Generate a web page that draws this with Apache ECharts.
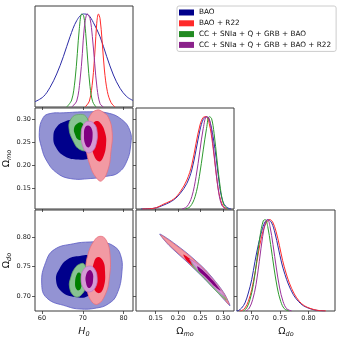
<!DOCTYPE html>
<html>
<head>
<meta charset="utf-8">
<script src="https://cdn.jsdelivr.net/npm/echarts@6/dist/echarts.min.js"></script>
<style>
  html, body { margin: 0; padding: 0; background: #fff; }
  #chart { width: 340px; height: 341px; }
</style>
</head>
<body>
<div id="chart"></div>
<script>
const labels = ['BAO', 'BAO + R22', 'CC + SNIa + Q + GRB + BAO', 'CC + SNIa + Q + GRB + BAO + R22']

// axis ticks and ranges
const h0Ticks = [60, 70, 80]
const omTicks = [0.15, 0.20, 0.25, 0.30]
const odTicks = [0.70, 0.75, 0.80]
const h0Range = [58.3, 82.3]
const omRange = [0.106, 0.325]
const odRange = [0.6744, 0.8465]

// 1D marginals: [value, relative density]
const h0Bao = [[58.3,0.057],[60.34,0.111],[61.98,0.211],[63.61,0.355],[65.24,0.541],[66.88,0.756],[68.51,0.928],[70.15,1.0],[71.37,0.989],[72.6,0.907],[74.23,0.756],[75.87,0.541],[77.5,0.344],[79.13,0.201],[80.77,0.111],[82.3,0.07]]
const h0R22 = [[70.55,0],[71.62,0.064],[72.43,0.29],[73.0,0.613],[73.42,0.9],[73.83,1.0],[74.23,0.95],[74.72,0.72],[75.3,0.398],[76.03,0.165],[76.93,0.047],[77.91,0]]
const h0Cc = [[66.05,0],[67.28,0.075],[68.1,0.29],[68.67,0.577],[69.16,0.846],[69.74,1.0],[70.23,0.978],[70.72,0.792],[71.21,0.505],[71.78,0.219],[72.43,0.057],[73.25,0]]
const h0CcR = [[67.28,0],[68.51,0.064],[69.33,0.29],[69.9,0.577],[70.39,0.86],[71.12,1.0],[71.78,0.95],[72.35,0.756],[72.92,0.47],[73.5,0.2],[74.23,0.036],[75.05,0]]

const omBao = [[0.117,0],[0.1463,0.008],[0.168,0.043],[0.19,0.098],[0.205,0.17],[0.2197,0.278],[0.2307,0.4225],[0.2402,0.64],[0.249,0.856],[0.2563,0.972],[0.2637,1.0],[0.271,0.946],[0.2783,0.783],[0.2857,0.53],[0.293,0.242],[0.3003,0.079],[0.309,0.018],[0.3187,0]]
const omR22 = [[0.12,0],[0.1463,0.008],[0.1683,0.054],[0.1903,0.108],[0.205,0.188],[0.2197,0.314],[0.2307,0.477],[0.2402,0.712],[0.249,0.91],[0.2563,0.993],[0.2622,1.0],[0.2695,0.928],[0.277,0.712],[0.2842,0.4225],[0.2915,0.17],[0.3003,0.0325],[0.309,0]]
const omCc = [[0.216,0],[0.227,0.025],[0.238,0.133],[0.2475,0.35],[0.2563,0.64],[0.2637,0.874],[0.2695,1.0],[0.2747,0.982],[0.2805,0.82],[0.2871,0.53],[0.2945,0.224],[0.3025,0.043],[0.3113,0]]
const omCcR = [[0.2087,0],[0.2197,0.025],[0.2307,0.133],[0.2402,0.35],[0.249,0.64],[0.2563,0.874],[0.2637,1.0],[0.2695,0.982],[0.2754,0.82],[0.282,0.53],[0.2893,0.224],[0.2974,0.043],[0.3062,0]]

const odBao = [[0.673,0],[0.6767,0.004],[0.6826,0.033],[0.6884,0.088],[0.6943,0.197],[0.7002,0.343],[0.706,0.544],[0.7119,0.727],[0.7177,0.873],[0.7236,0.975],[0.7294,1.0],[0.7353,0.964],[0.7411,0.854],[0.747,0.69],[0.7528,0.526],[0.7587,0.398],[0.7645,0.296],[0.7733,0.179],[0.7821,0.106],[0.7909,0.058],[0.8026,0.0255],[0.8143,0.0073],[0.829,0]]
const odR22 = [[0.679,0],[0.6826,0.004],[0.6884,0.033],[0.6943,0.106],[0.7002,0.234],[0.706,0.416],[0.7119,0.635],[0.7177,0.818],[0.7236,0.938],[0.7283,0.989],[0.7323,1.0],[0.737,0.975],[0.7429,0.873],[0.7488,0.719],[0.7546,0.551],[0.7605,0.416],[0.7663,0.307],[0.7751,0.186],[0.7839,0.106],[0.7926,0.058],[0.8043,0.0255],[0.8161,0.0073],[0.8307,0]]
const odCc = [[0.6855,0],[0.6914,0.033],[0.6972,0.124],[0.7031,0.288],[0.709,0.544],[0.7148,0.818],[0.7206,0.989],[0.7242,1.0],[0.7283,0.927],[0.7335,0.727],[0.7394,0.471],[0.7452,0.252],[0.7511,0.106],[0.7575,0.0255],[0.7663,0]]
const odCcR = [[0.6902,0],[0.6961,0.033],[0.7019,0.124],[0.7078,0.288],[0.7136,0.544],[0.7195,0.818],[0.7248,0.982],[0.7283,1.0],[0.7323,0.927],[0.7376,0.727],[0.7435,0.471],[0.7493,0.252],[0.7552,0.106],[0.7616,0.0255],[0.7704,0]]

// 2D contours (68% / 95%), outlines: H0 vs Omega_mo
const hmBao95 = [[59.35,0.272],[60.3,0.304],[62.0,0.313],[65.2,0.3145],[71.0,0.3167],[75.9,0.3145],[79.55,0.30],[81.6,0.2747],[81.75,0.246],[80.8,0.21],[78.7,0.1846],[75.9,0.177],[71.8,0.172],[66.9,0.172],[63.6,0.1846],[61.2,0.21],[59.9,0.2394]]
const hmBao68 = [[62.8,0.264],[63.7,0.285],[65.65,0.2957],[68.5,0.301],[71.4,0.301],[73.0,0.2935],[73.7,0.2675],[73.25,0.235],[71.8,0.217],[68.85,0.2134],[65.65,0.22],[63.45,0.2394]]
const hmR2295 = [[73.5,0.3206],[74.97,0.316],[76.3,0.3043],[77.2,0.272],[76.9,0.231],[76.2,0.192],[74.6,0.167],[73.25,0.1745],[71.8,0.2],[70.8,0.2394],[70.8,0.2784],[71.8,0.3087]]
const hmR2268 = [[73.0,0.2957],[74.2,0.2935],[75.45,0.272],[75.7,0.246],[74.97,0.2177],[74.0,0.209],[72.75,0.222],[72.0,0.2567],[72.3,0.285]]
const hmCc95 = [[68.9,0.3108],[70.8,0.3065],[71.55,0.278],[71.05,0.235],[69.3,0.235],[67.85,0.25],[66.6,0.283],[67.35,0.304]]
const hmCc68 = [[67.85,0.2805],[68.6,0.291],[69.6,0.2935],[70.3,0.285],[70.55,0.2675],[69.8,0.2567],[68.85,0.2567],[68.1,0.2675]]
const hmCcR95 = [[71.35,0.2963],[72.75,0.291],[73.5,0.274],[73.25,0.246],[72.27,0.2307],[71.05,0.2286],[69.95,0.2437],[69.6,0.2697],[70.2,0.2892]]
const hmCcR68 = [[71.3,0.287],[72.15,0.2805],[72.4,0.263],[72.0,0.246],[71.3,0.2394],[70.55,0.248],[70.3,0.2675],[70.55,0.2827]]

// H0 vs Omega_do
const hdBao95 = [[59.94,0.722],[60.9,0.757],[63.0,0.779],[67.7,0.789],[71.8,0.792],[75.05,0.791],[77.6,0.785],[79.2,0.771],[79.6,0.742],[78.3,0.7022],[76.2,0.6863],[73.4,0.6795],[69.3,0.6778],[66.07,0.6824],[61.2,0.6965]]
const hdBao68 = [[63.45,0.7272],[64.4,0.7477],[66.4,0.763],[69.3,0.7681],[72.27,0.7681],[73.5,0.7579],[73.5,0.7187],[71.3,0.70],[68.1,0.6983],[64.9,0.7068]]
const hdR2295 = [[74.23,0.8017],[75.7,0.7954],[76.68,0.7698],[76.44,0.7272],[75.46,0.7017],[73.74,0.6863],[72.27,0.6897],[71.05,0.7102],[70.68,0.7408],[71.3,0.7715],[72.76,0.7937]]
const hdR2268 = [[73.74,0.7664],[74.97,0.7596],[75.46,0.7408],[75.2,0.717],[74.1,0.705],[72.76,0.7119],[72.27,0.734],[72.76,0.7579]]
const hdCc95 = [[69.33,0.7545],[70.3,0.7545],[70.92,0.741],[70.8,0.717],[69.33,0.70],[67.86,0.70],[66.75,0.7153],[67.1,0.7323],[68.1,0.7477]]
const hdCc68 = [[68.72,0.739],[69.45,0.7383],[69.7,0.7255],[69.45,0.712],[68.6,0.7102],[68.1,0.7221]]
const hdCcR95 = [[71.78,0.7511],[72.88,0.746],[73.5,0.7323],[73.13,0.7153],[71.66,0.7068],[70.3,0.7119],[69.57,0.7289],[70.3,0.746]]
const hdCcR68 = [[71.66,0.7443],[72.4,0.7391],[72.52,0.7272],[72.15,0.717],[71.42,0.7136],[70.8,0.7221],[70.8,0.7357]]

// Omega_mo vs Omega_do
const mdBao95 = [[0.159,0.8055],[0.18,0.796],[0.22,0.773],[0.26,0.7455],[0.29,0.7185],[0.305,0.702],[0.316,0.6835],[0.305,0.692],[0.29,0.7045],[0.26,0.7285],[0.22,0.758],[0.18,0.786]]
const mdBao68 = [[0.22,0.769],[0.26,0.7415],[0.29,0.714],[0.29,0.709],[0.26,0.733],[0.22,0.762]]
const mdR2295 = [[0.161,0.804],[0.18,0.7948],[0.22,0.7718],[0.26,0.7443],[0.29,0.7173],[0.305,0.7008],[0.314,0.6855],[0.305,0.6932],[0.29,0.7057],[0.26,0.7297],[0.22,0.7592],[0.18,0.7872]]
const mdR2268 = [[0.212,0.7705],[0.235,0.7585],[0.26,0.7425],[0.285,0.7195],[0.294,0.7095],[0.285,0.7115],[0.26,0.731],[0.235,0.7495],[0.218,0.7615]]
const mdCc95 = [[0.23,0.757],[0.26,0.7375],[0.29,0.7125],[0.308,0.693],[0.29,0.7045],[0.26,0.729],[0.235,0.749]]
const mdCc68 = [[0.25,0.7445],[0.275,0.7255],[0.297,0.705],[0.278,0.7185],[0.255,0.737]]
const mdCcR95 = [[0.226,0.7625],[0.245,0.7535],[0.27,0.735],[0.29,0.7165],[0.305,0.699],[0.29,0.7075],[0.27,0.7235],[0.245,0.744]]
const mdCcR68 = [[0.243,0.7505],[0.26,0.7405],[0.28,0.7245],[0.295,0.709],[0.28,0.7175],[0.26,0.733],[0.246,0.743]]

const FONT = 'DejaVu Sans'
const legendColors = ['#00008b', '#ff2a2a', '#228b22', '#8b228b']
const lineColors = ['#2b2ba6', '#ff2b2b', '#2e9a2e', '#9a339a']
const fill68 = ['#00008b', '#e8001c', '#008000', '#800080']
const fill95 = ['#9393d3', '#f29aa3', '#88c392', '#d49ad4']
const edge95 = ['#5c5cc4', '#e8707c', '#6aa66a', '#c07ac0']

const chart = echarts.init(document.getElementById('chart'))

const grids = [
  { left: 35, top: 6 },    // H0 1D
  { left: 35, top: 108 },  // H0 - Omega_mo
  { left: 136, top: 108 }, // Omega_mo 1D
  { left: 35, top: 210 },  // H0 - Omega_do
  { left: 136, top: 210 }, // Omega_mo - Omega_do
  { left: 237, top: 210 }  // Omega_do 1D
].map(g => Object.assign(g, {
  width: 98, height: 101, show: true, borderColor: '#3a3a3a', borderWidth: 1
}))

const nameRich = {
  m: { fontSize: 9.5, fontFamily: FONT, fontStyle: 'italic', color: '#111', lineHeight: 12 },
  g: { fontSize: 9.5, fontFamily: FONT, color: '#111', lineHeight: 12 },
  s: { fontSize: 6.5, fontFamily: FONT, fontStyle: 'italic', color: '#111', lineHeight: 7, verticalAlign: 'bottom' }
}

function fmt(v) {
  return Math.abs(v) >= 10 ? String(Math.round(v)) : v.toFixed(2)
}

function axis(gi, range, ticks, opts) {
  opts = opts || {}
  return {
    type: 'value', gridIndex: gi, min: range[0], max: range[1],
    show: opts.hidden ? false : true,
    position: opts.position,
    splitLine: { show: false },
    axisLine: { show: false },
    axisTick: { show: !!ticks, length: 3, customValues: ticks || undefined, lineStyle: { color: '#333', width: 0.8 } },
    axisLabel: {
      show: !!opts.labels, customValues: ticks || undefined, formatter: fmt,
      fontSize: 6.5, fontFamily: FONT, color: '#222', margin: 4
    },
    name: opts.name || '', nameLocation: 'middle', nameGap: opts.nameGap || 14,
    nameRotate: opts.rotate, nameTextStyle: { rich: nameRich }
  }
}

const nameH0 = '{m|H}{s|0}'
const nameOm = '{g|Ω}{s|mo}'
const nameOd = '{g|Ω}{s|do}'

const xAxis = [
  axis(0, h0Range, h0Ticks),
  axis(1, h0Range, h0Ticks),
  axis(2, omRange, omTicks),
  axis(3, h0Range, h0Ticks, { labels: true, name: nameH0, nameGap: 15 }),
  axis(4, omRange, omTicks, { labels: true, name: nameOm, nameGap: 15 }),
  axis(5, odRange, odTicks, { labels: true, name: nameOd, nameGap: 15 })
]
const yAxis = [
  axis(0, [0, 1.086], null, { hidden: true }),
  axis(1, omRange, omTicks, { labels: true, name: nameOm, nameGap: 16, rotate: 90 }),
  axis(2, [0, 1.094], null, { hidden: true }),
  axis(3, odRange, odTicks, { labels: true, name: nameOd, nameGap: 16, rotate: 90 }),
  axis(4, odRange, odTicks),
  axis(5, [0, 1.106], null, { hidden: true }),
  axis(2, omRange, omTicks, { position: 'left' }),
  axis(5, odRange, odTicks, { position: 'left' })
]

const series = []

// filled contours, 95% under 68%, datasets in legend order
function contour(ai, verts, k, level, smooth) {
  const fill = level === 68 ? fill68[k] : fill95[k]
  const stroke = level === 68 ? null : edge95[k]
  series.push({
    type: 'custom', xAxisIndex: ai, yAxisIndex: ai, silent: true,
    data: [verts[0]],
    renderItem: (params, api) => ({
      type: 'polygon',
      shape: { points: verts.map(v => api.coord(v)), smooth: smooth },
      style: { fill: fill, stroke: stroke, lineWidth: stroke ? 0.8 : 0 }
    })
  })
}

const panels = [
  [1, [[hmBao95, hmBao68], [hmR2295, hmR2268], [hmCc95, hmCc68], [hmCcR95, hmCcR68]], 0.45],
  [3, [[hdBao95, hdBao68], [hdR2295, hdR2268], [hdCc95, hdCc68], [hdCcR95, hdCcR68]], 0.45],
  [4, [[mdBao95, mdBao68], [mdR2295, mdR2268], [mdCc95, mdCc68], [mdCcR95, mdCcR68]], 0.25]
]
panels.forEach(([ai, sets, sm]) => {
  sets.forEach((pair, k) => {
    contour(ai, pair[0], k, 95, sm)
    contour(ai, pair[1], k, 68, sm)
  })
})

// marginal curves
const marginals = [
  [0, 0, [h0Bao, h0R22, h0Cc, h0CcR]],
  [2, 2, [omBao, omR22, omCc, omCcR]],
  [5, 5, [odBao, odR22, odCc, odCcR]]
]
marginals.forEach(([xi, yi, curves]) => {
  curves.forEach((d, k) => {
    series.push({
      type: 'line', name: xi === 0 ? labels[k] : undefined,
      xAxisIndex: xi, yAxisIndex: yi, data: d,
      smooth: 0.35, showSymbol: false, silent: true,
      itemStyle: { color: legendColors[k] },
      lineStyle: { color: lineColors[k], width: 1 }
    })
  })
})

chart.setOption({
  animation: false,
  textStyle: { fontFamily: FONT },
  grid: grids,
  xAxis: xAxis,
  yAxis: yAxis,
  legend: {
    left: 177, top: 6, orient: 'vertical',
    selectedMode: false,
    padding: [2, 5, 2, 2],
    itemGap: 1.8, itemWidth: 15, itemHeight: 6,
    borderColor: '#cccccc', borderWidth: 1, borderRadius: 2,
    backgroundColor: '#fff',
    textStyle: { fontSize: 7.3, fontFamily: FONT, color: '#111', lineHeight: 9 },
    data: labels.map((n, k) => ({ name: n, icon: 'rect', itemStyle: { color: legendColors[k] } }))
  },
  series: series
})
</script>
</body>
</html>
